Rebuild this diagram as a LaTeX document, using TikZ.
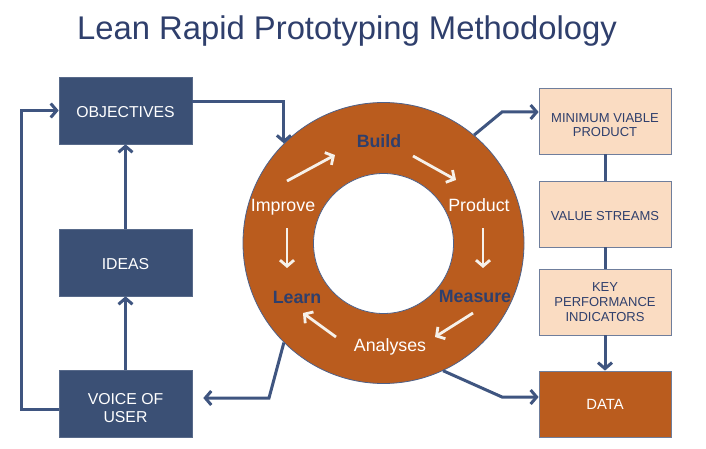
\documentclass[tikz,border=0pt]{standalone}
\usepackage{fontspec}
\setmainfont{Liberation Sans}
\usetikzlibrary{arrows.meta,calc}
\definecolor{navy}{HTML}{3B5075}
\definecolor{connc}{HTML}{3F5580}
\definecolor{titlec}{HTML}{2F3F6C}
\definecolor{rust}{HTML}{BA5C1E}
\definecolor{peach}{HTML}{FADCC2}
\definecolor{peachb}{HTML}{6F7E9C}
\definecolor{ringb}{HTML}{4E6189}
\definecolor{warrow}{HTML}{F6F1EA}
\begin{document}
\begin{tikzpicture}[x=1pt,y=-1pt,
  darkbox/.style={draw=navy!85!white, line width=0.6pt, fill=navy, minimum width=133pt, minimum height=67pt, inner sep=0pt},
  darktext/.style={text=white, font=\fontsize{15.8}{18}\selectfont, align=center, inner sep=0pt},
  lightbox/.style={draw=peachb, line width=0.8pt, fill=peach, minimum width=132pt, minimum height=66pt, text=titlec, font=\fontsize{13}{15}\selectfont, align=center, inner sep=0pt},
  lighttext/.style={text=titlec, font=\fontsize{13}{14.5}\selectfont, align=center, inner sep=0pt},
  rustbox/.style={draw=peachb, line width=0.8pt, fill=rust, minimum width=132pt, minimum height=66pt, text=white, font=\fontsize{14.8}{17}\selectfont, align=center, inner sep=0pt},
  conn/.style={draw=connc, line width=3pt},
  carr/.style={conn, -{Straight Barb[length=6pt,width=14pt]}},
  warr/.style={draw=warrow, line width=2.8pt, -{Straight Barb[length=6pt,width=14pt]}},
  lbldark/.style={text=titlec, font=\fontsize{17.8}{20}\selectfont\bfseries, anchor=base, inner sep=0pt},
  lbllight/.style={text=white, font=\fontsize{17.8}{20}\selectfont, anchor=base, inner sep=0pt}
]
\useasboundingbox (0,0) rectangle (706,449);
\fill[white] (0,0) rectangle (706,449);

% title
\node[font=\fontsize{32.8}{40}\selectfont, text=titlec, anchor=base, inner sep=0pt] (title) at (347,40) {Lean Rapid Prototyping Methodology};

% ring
\node[circle, draw=ringb, line width=0.8pt, fill=rust, minimum size=281pt, inner sep=0pt] (ring) at (383.5,243) {};
\node[circle, draw=ringb, line width=0.8pt, fill=white, minimum size=140pt, inner sep=0pt] (hole) at (383.5,243.5) {};

% ring labels
\node[lbldark] (build) at (379,148) {Build};
\node[lbllight] (product) at (479,211) {Product};
\node[lbldark] (measure) at (475,302) {Measure};
\node[lbllight] (analyses) at (390,351) {Analyses};
\node[lbldark] (learn) at (297,303) {Learn};
\node[lbllight] (improve) at (283,211) {Improve};

% ring arrows
\coordinate (a1s) at (287,181); \coordinate (a1e) at (335,155);
\coordinate (a2s) at (413,156); \coordinate (a2e) at (456,180);
\coordinate (a3s) at (483,228); \coordinate (a3e) at (483,268);
\coordinate (a4s) at (473,313); \coordinate (a4e) at (435,337);
\coordinate (a5s) at (336,337); \coordinate (a5e) at (303,313);
\coordinate (a6s) at (287,228); \coordinate (a6e) at (287,268);
\draw[warr] (a1s) -- (a1e);
\draw[warr] (a2s) -- (a2e);
\draw[warr] (a3s) -- (a3e);
\draw[warr] (a4s) -- (a4e);
\draw[warr] (a5s) -- (a5e);
\draw[warr] (a6s) -- (a6e);

% left boxes
\node[darkbox] (obj) at (125.5,110.5) {};
\node[darktext] (objt) at ([yshift=-2pt]obj.center) {OBJECTIVES};
\node[darkbox] (ideas) at (125.5,262.5) {};
\node[darktext] (ideast) at ([yshift=-1.5pt]ideas.center) {IDEAS};
\node[darkbox] (voice) at (125.5,403.5) {};
\node[darktext] (voicet) at ([yshift=-5pt]voice.center) {VOICE OF\\USER};

% right boxes
\node[lightbox] (mvp) at (605,121) {};
\node[lighttext] (mvpt) at ([yshift=-4pt]mvp.center) {MINIMUM VIABLE\\PRODUCT};
\node[lightbox] (vs) at (605,214) {};
\node[lighttext] (vst) at ([yshift=-2pt]vs.center) {VALUE STREAMS};
\node[lightbox] (kpi) at (605,302) {KEY\\PERFORMANCE\\INDICATORS};
\node[rustbox] (data) at (605,404) {DATA};

% left connectors
\coordinate (lx) at (21,0);
\coordinate (vw) at ([yshift=-5.5pt]voice.west);
\draw[carr] (vw) -- (vw -| lx) |- (obj.west);
\draw[carr] (ideas.north) -- (obj.south);
\draw[carr] (voice.north) -- (ideas.south);

% objectives -> ring
\coordinate (oe) at ([yshift=8.5pt]obj.east);
\draw[carr] (oe) -| (ring.135);

% ring -> voice
\coordinate (vk) at (269,398);
\coordinate (ve) at ([xshift=11pt,yshift=5.5pt]voice.east);
\draw[carr] (ring.225) -- (vk) -- (ve);

% ring -> right
\coordinate (mk) at (502,112);
\draw[carr] (ring.50) -- (mk) -- (mk -| mvp.west);
\coordinate (dk) at (502,397);
\draw[carr] (ring.-65) -- (dk) -- (dk -| data.west);

% right chain
\draw[conn] (mvp.south) -- (vs.north);
\draw[conn] (vs.south) -- (kpi.north);
\draw[carr] (kpi.south) -- (data.north);
\end{tikzpicture}
\end{document}
